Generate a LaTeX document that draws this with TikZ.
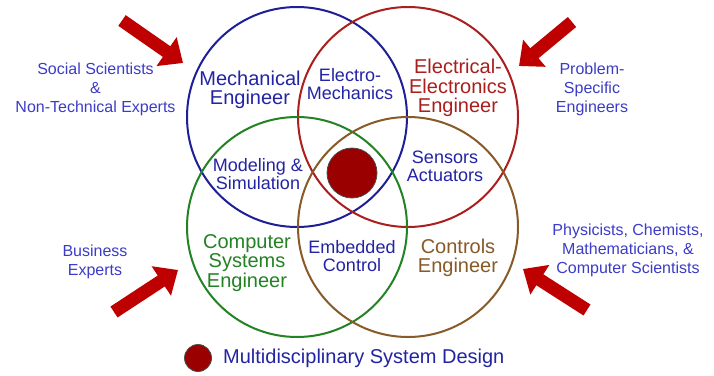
\documentclass[tikz,border=0pt]{standalone}
\usepackage{fontspec}
\setmainfont{Liberation Sans}
\usetikzlibrary{arrows.meta}
\definecolor{cblue}{RGB}{30,30,150}
\definecolor{cred}{RGB}{170,30,30}
\definecolor{cgreen}{RGB}{35,130,35}
\definecolor{cbrown}{RGB}{135,90,40}
\definecolor{tblue}{RGB}{35,35,165}
\definecolor{oblue}{RGB}{60,60,200}
\definecolor{dotred}{RGB}{155,0,0}
\definecolor{arrred}{RGB}{190,0,0}
\tikzset{
  venn/.style={circle, draw, line width=2pt, minimum size=220pt, inner sep=0pt},
  clabel/.style={align=center, font=\fontsize{20}{19.5}\selectfont, inner sep=0pt},
  ilabel/.style={align=center, font=\fontsize{18}{18}\selectfont, text=tblue, inner sep=0pt},
  olabel/.style={align=center, font=\fontsize{16}{19}\selectfont, text=oblue, inner sep=0pt},
  bigarrow/.style={draw=arrred, fill=arrred, line width=13pt, -{Triangle[length=20pt,width=34pt]}},
  dot/.style={circle, fill=dotred, draw=black!70, line width=0.8pt, inner sep=0pt}
}
\begin{document}
\begin{tikzpicture}[x=1pt,y=-1pt]
\useasboundingbox[fill=white] (0,0) rectangle (714,375);
% circles
\node[venn, draw=cblue]  (mech) at (297,117) {};
\node[venn, draw=cred]   (elec) at (408,117) {};
\node[venn, draw=cgreen] (comp) at (297,227) {};
\node[venn, draw=cbrown] (ctrl) at (408,227) {};
% centre dot
\node[dot, minimum size=50pt] (centre) at (352,173) {};
% circle labels
\node[clabel, text=tblue] (lmech) at (250,90) {Mechanical\\Engineer};
\node[clabel, text=cred] (lelec) at (458,88) {Electrical-\\Electronics\\Engineer};
\node[clabel, text=cgreen] (lcomp) at (247,263) {Computer\\Systems\\Engineer};
\node[clabel, text=cbrown] (lctrl) at (458,258) {Controls\\Engineer};
\node[ilabel] (lem) at (350,84) {Electro-\\Mechanics};
\node[ilabel] (lmod) at (258,174) {Modeling \&\\Simulation};
\node[ilabel] (lsens) at (445,166) {Sensors\\Actuators};
\node[ilabel] (lemb) at (352,256) {Embedded\\Control};
% outer labels
\node[olabel] (social) at (95.5,89) {Social Scientists\\\&\\Non-Technical Experts};
\node[olabel] (problem) at (592,89) {Problem-\\Specific\\Engineers};
\node[olabel] (business) at (95,262) {Business\\Experts};
\node[olabel] (phys) at (628,250) {Physicists, Chemists,\\Mathematicians, \&\\Computer Scientists};
% arrows
\coordinate (a1s) at (122,20.5); \coordinate (a1e) at (183,63);
\coordinate (a2s) at (572,22);   \coordinate (a2e) at (519,66);
\coordinate (a3s) at (114,312);  \coordinate (a3e) at (178,270);
\coordinate (a4s) at (587,310);  \coordinate (a4e) at (523,269);
\draw[bigarrow] (a1s) -- (a1e);
\draw[bigarrow] (a2s) -- (a2e);
\draw[bigarrow] (a3s) -- (a3e);
\draw[bigarrow] (a4s) -- (a4e);
% legend
\node[dot, minimum size=27pt] (ldot) at (198,358) {};
\node[anchor=west, inner sep=0pt, font=\fontsize{20}{20}\selectfont, text=tblue] (ltext) at (223,358) {Multidisciplinary System Design};
\end{tikzpicture}
\end{document}
